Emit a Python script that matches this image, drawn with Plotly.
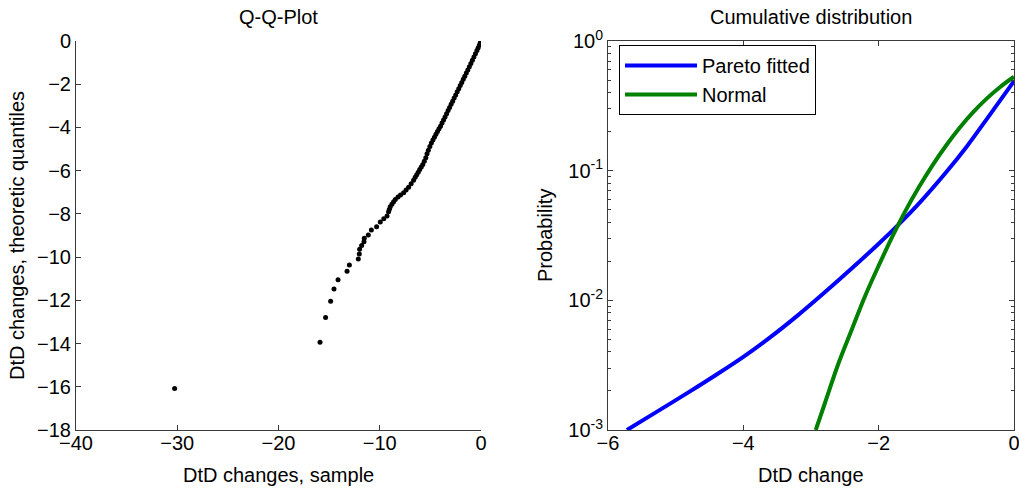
import plotly.graph_objects as go

# ---- Q-Q plot data (sample quantile, theoretic quantile) ----
qq_sample = [-30.26, -15.90, -15.35, -14.85, -14.52, -14.12, -13.23, -13.00, -12.12, -12.02,
             -11.99, -11.79, -11.56, -11.53, -11.13, -10.83, -10.31, -9.95, -9.60, -9.28,
             -9.13, -9.05, -8.96, -8.80, -8.63, -8.46, -8.20, -7.95, -7.64, -7.40,
             -7.15, -6.90, -6.66, -6.50, -6.35, -6.20, -6.05, -5.90, -5.75, -5.60,
             -5.45, -5.33, -5.20, -5.05, -4.90, -4.75, -4.60, -4.45, -4.30, -4.15,
             -4.00, -3.85, -3.70, -3.55, -3.40, -3.25, -3.10, -2.95, -2.80, -2.65,
             -2.50, -2.35, -2.20, -2.05, -1.90, -1.75, -1.60, -1.45, -1.30, -1.15,
             -1.00, -0.85, -0.70, -0.55, -0.40, -0.28, -0.16, -0.06, 0.00]
qq_theory = [-16.08, -13.94, -12.79, -12.04, -11.47, -11.05, -10.66, -10.36, -10.09, -9.86,
             -9.64, -9.46, -9.29, -9.13, -8.98, -8.75, -8.60, -8.37, -8.22, -8.10,
             -7.90, -7.78, -7.67, -7.55, -7.44, -7.33, -7.22, -7.13, -7.02, -6.90,
             -6.77, -6.60, -6.44, -6.31, -6.19, -6.07, -5.95, -5.83, -5.71, -5.57,
             -5.40, -5.22, -5.05, -4.88, -4.72, -4.58, -4.45, -4.32, -4.19, -4.06,
             -3.94, -3.80, -3.66, -3.52, -3.37, -3.22, -3.08, -2.93, -2.79, -2.64,
             -2.50, -2.35, -2.21, -2.06, -1.92, -1.77, -1.63, -1.48, -1.34, -1.19,
             -1.04, -0.89, -0.74, -0.59, -0.44, -0.31, -0.18, -0.07, 0.00]

# ---- Cumulative distribution data ----
pareto_x = [-5.72, -5.3, -4.8, -4.4, -4.0, -3.6, -3.2, -2.8, -2.4, -2.0, -1.7, -1.4, -1.0, -0.7, -0.4, 0.0]
pareto_p = [0.001, 0.001361, 0.001968, 0.002667, 0.003664, 0.0052, 0.00762, 0.01148, 0.01758,
            0.02735, 0.03873, 0.05623, 0.09772, 0.1531, 0.2512, 0.4898]
normal_x = [-2.93, -2.8, -2.6, -2.4, -2.2, -2.0, -1.8, -1.6, -1.4, -1.2, -1.0, -0.8, -0.6, -0.4, -0.2, 0.0]
normal_p = [0.001, 0.00158, 0.0032, 0.0059, 0.0108, 0.0185, 0.0308, 0.0494, 0.0754,
            0.111, 0.157, 0.215, 0.284, 0.361, 0.444, 0.53]

left_xticks = [-40, -30, -20, -10, 0]
left_yticks = [0, -2, -4, -6, -8, -10, -12, -14, -16, -18]
right_xticks = [-6, -4, -2, 0]
right_yticks = [0.001, 0.01, 0.1, 1]
right_yticktext = ["10<sup>-3</sup>", "10<sup>-2</sup>", "10<sup>-1</sup>", "10<sup>0</sup>"]

W, H = 1019, 491
FONT = "Liberation Sans, Arial, sans-serif"
AX = "#3a3a3a"

fig = go.Figure()
fig.add_trace(go.Scatter(x=qq_sample, y=qq_theory, mode="markers",
                         marker=dict(color="black", size=5),
                         xaxis="x", yaxis="y", showlegend=False))
fig.add_trace(go.Scatter(x=pareto_x, y=pareto_p, mode="lines", name="Pareto fitted",
                         line=dict(color="#0000ff", width=4, shape="spline"),
                         xaxis="x2", yaxis="y2"))
fig.add_trace(go.Scatter(x=normal_x, y=normal_p, mode="lines", name="Normal",
                         line=dict(color="#008000", width=4, shape="spline"),
                         xaxis="x2", yaxis="y2"))

ydom = [1 - 430 / H, 1 - 41 / H]
common = dict(showgrid=False, zeroline=False, ticks="inside", ticklen=5,
              tickcolor=AX, linecolor=AX, linewidth=1, showline=True, automargin=False,
              ticklabeloverflow="allow",
              tickfont=dict(family=FONT, size=20, color="black"))

fig.update_layout(
    width=W, height=H,
    margin=dict(l=0, r=0, t=0, b=0),
    paper_bgcolor="white", plot_bgcolor="white",
    font=dict(family=FONT, size=20, color="black"),
    xaxis=dict(domain=[76 / W, 481 / W], range=[-40, 0], tickmode="array",
               tickvals=left_xticks, anchor="y", ticklabelstandoff=-5, **common),
    yaxis=dict(domain=ydom, range=[-18, 0], tickmode="array",
               tickvals=left_yticks, anchor="x", **common),
    xaxis2=dict(domain=[608 / W, 1014 / W], range=[-6, 0], tickmode="array",
                tickvals=right_xticks, anchor="y2", mirror="ticks", ticklabelstandoff=-5,
                **common),
    yaxis2=dict(domain=ydom, type="log", range=[-3, 0], tickmode="array",
                tickvals=right_yticks, ticktext=right_yticktext, anchor="x2",
                mirror="ticks",
                minor=dict(ticks="inside", ticklen=3, tickcolor=AX, dtick="D1", showgrid=False),
                **common),
    legend=dict(x=619 / W, y=1 - 45 / H, xanchor="left", yanchor="top",
                bordercolor="black", borderwidth=1, bgcolor="white",
                font=dict(family=FONT, size=20, color="black"),
                itemwidth=72, tracegroupgap=0),
    annotations=[
        dict(text="Q-Q-Plot", x=278.5 / W, y=1 - 17 / H, xref="paper", yref="paper",
             xanchor="center", yanchor="middle", showarrow=False, font=dict(size=20)),
        dict(text="Cumulative distribution", x=811 / W, y=1 - 17 / H, xref="paper", yref="paper",
             xanchor="center", yanchor="middle", showarrow=False, font=dict(size=20)),
        dict(text="DtD changes, sample", x=278.5 / W, y=1 - 475 / H, xref="paper", yref="paper",
             xanchor="center", yanchor="middle", showarrow=False, font=dict(size=20)),
        dict(text="DtD change", x=811 / W, y=1 - 475 / H, xref="paper", yref="paper",
             xanchor="center", yanchor="middle", showarrow=False, font=dict(size=20)),
        dict(text="DtD changes, theoretic quantiles", x=17 / W, y=1 - 236 / H, xref="paper",
             yref="paper", xanchor="center", yanchor="middle", showarrow=False,
             textangle=-90, font=dict(size=20)),
        dict(text="Probability", x=545 / W, y=1 - 236 / H, xref="paper",
             yref="paper", xanchor="center", yanchor="middle", showarrow=False,
             textangle=-90, font=dict(size=20)),
    ],
)

fig.write_html("out.html")
